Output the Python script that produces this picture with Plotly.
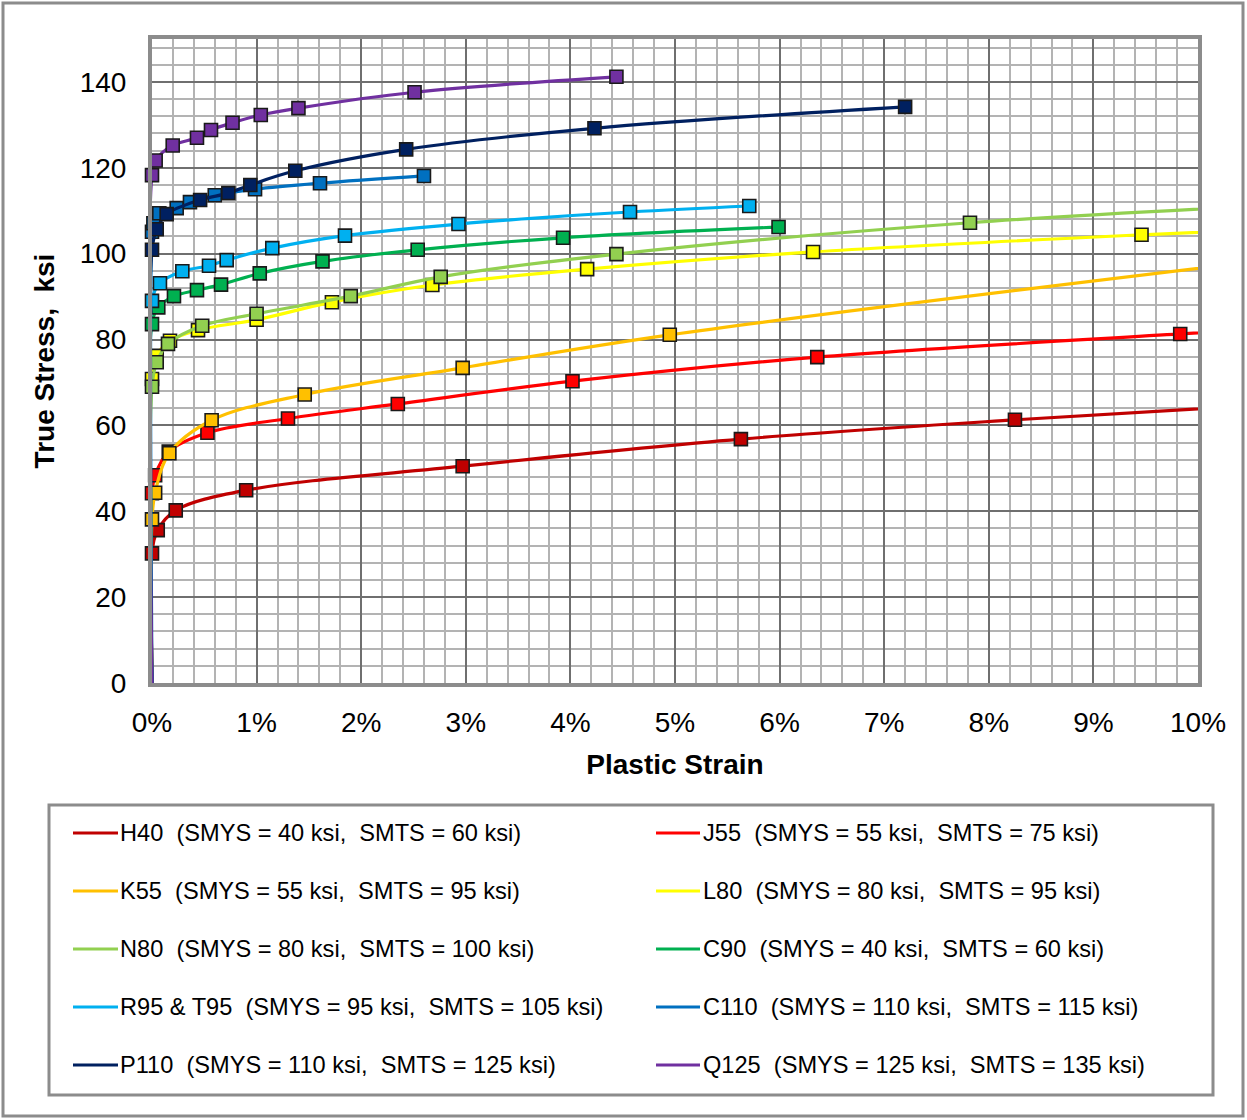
import plotly.graph_objects as go

# ---------------- data (plastic strain in %, true stress in ksi) ----------------
names = [
    "H40  (SMYS = 40 ksi,  SMTS = 60 ksi)",
    "J55  (SMYS = 55 ksi,  SMTS = 75 ksi)",
    "K55  (SMYS = 55 ksi,  SMTS = 95 ksi)",
    "L80  (SMYS = 80 ksi,  SMTS = 95 ksi)",
    "N80  (SMYS = 80 ksi,  SMTS = 100 ksi)",
    "C90  (SMYS = 40 ksi,  SMTS = 60 ksi)",
    "R95 & T95  (SMYS = 95 ksi,  SMTS = 105 ksi)",
    "C110  (SMYS = 110 ksi,  SMTS = 115 ksi)",
    "P110  (SMYS = 110 ksi,  SMTS = 125 ksi)",
    "Q125  (SMYS = 125 ksi,  SMTS = 135 ksi)",
]
colors = ["#C00000", "#FF0000", "#FFC000", "#FFFF00", "#92D050",
          "#00B050", "#00B0F0", "#0070C0", "#002060", "#7030A0"]

H40_strain = [0, 0, 0.055, 0.227, 0.90, 2.97, 5.63, 8.25, 11.0]
H40_stress = [0, 30.2, 35.6, 40.2, 44.9, 50.5, 56.8, 61.3, 65.3]

J55_strain = [0, 0, 0.03, 0.16, 0.53, 1.30, 2.35, 4.02, 6.36, 9.83, 11.0]
J55_stress = [0, 44.2, 48.4, 53.9, 58.3, 61.6, 65.0, 70.3, 75.9, 81.3, 83.0]

K55_strain = [0, 0, 0.03, 0.166, 0.57, 1.46, 2.97, 4.95, 11.0]
K55_stress = [0, 38.1, 44.3, 53.5, 61.2, 67.2, 73.4, 81.1, 99.5]

L80_strain = [0, 0, 0.045, 0.172, 0.44, 1.0, 1.72, 2.68, 4.16, 6.32, 9.46, 11.0]
L80_stress = [0, 70.8, 76.2, 79.7, 82.2, 84.6, 88.7, 92.7, 96.4, 100.4, 104.4, 106.0]

N80_strain = [0, 0, 0.045, 0.153, 0.48, 1.0, 1.90, 2.76, 4.44, 7.82, 11.0]
N80_stress = [0, 69.0, 74.7, 79.0, 83.2, 86.0, 90.1, 94.6, 99.9, 107.2, 111.6]

C90_strain = [0, 0, 0.06, 0.21, 0.43, 0.66, 1.03, 1.63, 2.54, 3.93, 5.99]
C90_stress = [0, 83.6, 87.5, 90.1, 91.5, 92.8, 95.4, 98.2, 100.9, 103.7, 106.2]

R95_strain = [0, 0, 0.076, 0.29, 0.545, 0.714, 1.15, 1.845, 2.93, 4.57, 5.71]
R95_stress = [0, 89.0, 93.1, 95.9, 97.2, 98.5, 101.3, 104.2, 106.9, 109.7, 111.1]

C110_strain = [0, 0, 0.013, 0.07, 0.236, 0.363, 0.60, 0.985, 1.606, 2.60]
C110_stress = [0, 105.1, 107.1, 109.4, 110.6, 112.0, 113.6, 115.0, 116.4, 118.1]

P110_strain = [0, 0, 0.045, 0.14, 0.46, 0.73, 0.94, 1.37, 2.43, 4.23, 7.20]
P110_stress = [0, 100.9, 105.7, 109.2, 112.5, 114.1, 116.0, 119.3, 124.3, 129.2, 134.2]

Q125_strain = [0, 0, 0.035, 0.198, 0.43, 0.564, 0.77, 1.04, 1.40, 2.51, 4.44]
Q125_stress = [0, 118.3, 121.7, 125.2, 127.0, 128.8, 130.5, 132.3, 133.9, 137.6, 141.2]

series_strain = [H40_strain, J55_strain, K55_strain, L80_strain, N80_strain,
                 C90_strain, R95_strain, C110_strain, P110_strain, Q125_strain]
series_stress = [H40_stress, J55_stress, K55_stress, L80_stress, N80_stress,
                 C90_stress, R95_stress, C110_stress, P110_stress, Q125_stress]

y_ticks = [0, 20, 40, 60, 80, 100, 120, 140]
x_ticks = [0, 1, 2, 3, 4, 5, 6, 7, 8, 9, 10]
x_max = 10

FONT = "Liberation Sans, Arial, sans-serif"
W, H = 1247, 1120
L, R, T, B = 152, 1198, 39, 683  # plot area pixel box

fig = go.Figure()
for nm, col, xs, ys in zip(names, colors, series_strain, series_stress):
    op = [0 if ((x == 0 and y == 0) or x > x_max) else 1 for x, y in zip(xs, ys)]
    fig.add_trace(go.Scatter(
        x=[v / 100 for v in xs], y=ys, mode="lines+markers", name=nm,
        line=dict(color=col, width=3.2, shape="spline", smoothing=1.0),
        marker=dict(symbol="square", size=13, color=col, opacity=op,
                    line=dict(color="#1a1a1a", width=1.6)),
        cliponaxis=False, showlegend=False,
    ))

fig.update_layout(
    width=W, height=H,
    margin=dict(l=L, r=W - R, t=T, b=H - B),
    paper_bgcolor="white", plot_bgcolor="white",
    font=dict(family=FONT, color="black"),
    showlegend=False,
)
fig.update_xaxes(
    range=[0, x_max / 100], tickvals=[v / 100 for v in x_ticks], tickformat=".0%",
    tickfont=dict(size=28), ticks="", ticklabelstandoff=11,
    showgrid=True, gridcolor="#6f6f6f", gridwidth=1.5,
    minor=dict(dtick=0.002, showgrid=True, gridcolor="#b3b3b3", gridwidth=2),
    showline=True, mirror=True, linecolor="#8c8c8c", linewidth=4,
    zeroline=False,
    title=dict(text="<b>Plastic Strain</b>", font=dict(size=28), standoff=19),
)
fig.update_yaxes(
    range=[0, 150], tickvals=y_ticks,
    tickfont=dict(size=28), ticks="", ticklabelstandoff=16,
    showgrid=True, gridcolor="#6f6f6f", gridwidth=1.5,
    minor=dict(dtick=4, showgrid=True, gridcolor="#b3b3b3", gridwidth=2),
    showline=True, mirror=True, linecolor="#8c8c8c", linewidth=4,
    zeroline=False,
    title=dict(text="<b>True Stress,\u00a0 ksi</b>", font=dict(size=28), standoff=18),
)


def px(xp):
    return (xp - L) / (R - L)


def py(yp):
    return (B - yp) / (B - T)


shapes = []
# outer figure border
shapes.append(dict(type="rect", xref="paper", yref="paper",
                   x0=px(3), x1=px(1243), y0=py(1116), y1=py(3),
                   line=dict(color="#8c8c8c", width=3), layer="below"))
# legend box
shapes.append(dict(type="rect", xref="paper", yref="paper",
                   x0=px(49), x1=px(1213), y0=py(1095), y1=py(805),
                   line=dict(color="#8c8c8c", width=3), layer="below"))

annotations = []
col_line_x = [(73, 118), (656, 700)]
col_text_x = [118, 701]
for i, (nm, col) in enumerate(zip(names, colors)):
    r, c = divmod(i, 2)
    yrow = 833 + 58 * r
    x0, x1 = col_line_x[c]
    shapes.append(dict(type="line", xref="paper", yref="paper",
                       x0=px(x0), x1=px(x1), y0=py(yrow), y1=py(yrow),
                       line=dict(color=col, width=3)))
    annotations.append(dict(
        xref="paper", yref="paper", x=px(col_text_x[c]), y=py(yrow),
        xanchor="left", yanchor="middle", showarrow=False,
        text=nm.replace("  ", "\u00a0 "), font=dict(size=23.6, family=FONT, color="black"),
    ))

fig.update_layout(shapes=shapes, annotations=annotations)
fig.write_html(
    "out.html",
    config={"displayModeBar": False},
    post_script="document.body.style.margin='0';document.body.style.overflow='hidden';",
)
